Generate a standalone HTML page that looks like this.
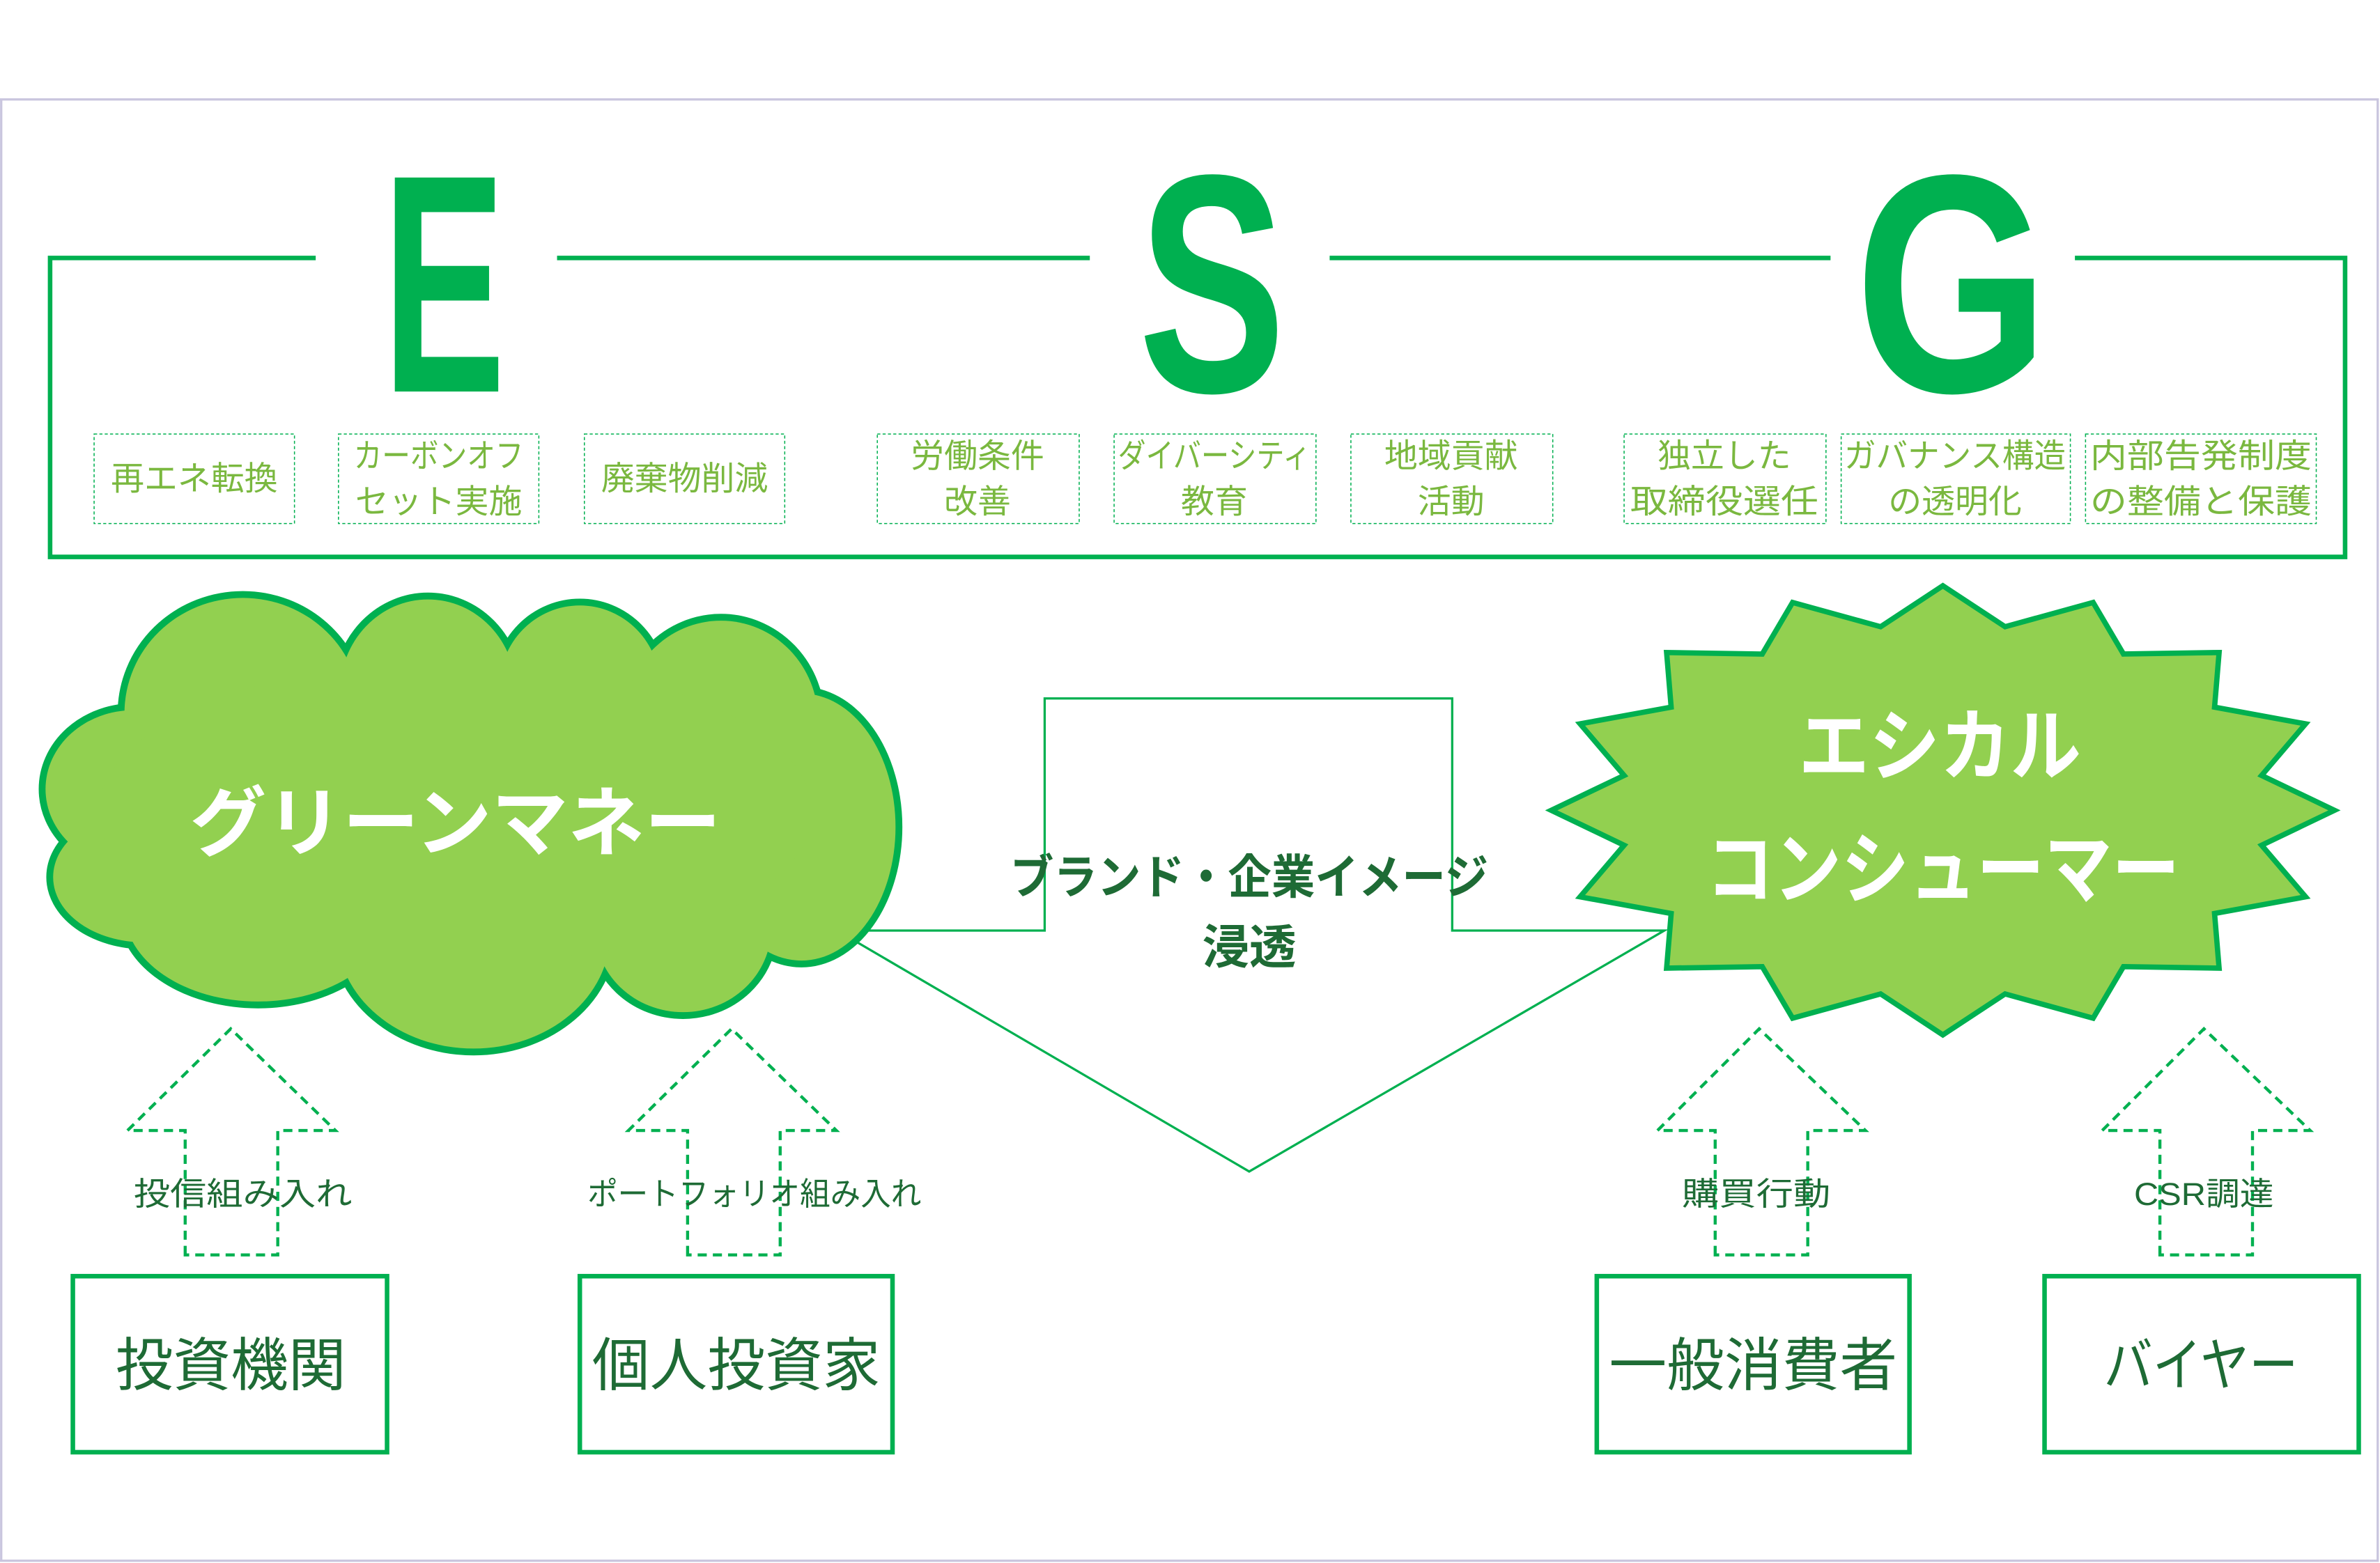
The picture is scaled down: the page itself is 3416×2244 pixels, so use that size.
<!DOCTYPE html>
<html><head><meta charset="utf-8"><style>
html,body{margin:0;padding:0;background:#fff;}
svg{display:block;}
text{font-family:"Liberation Sans","Noto Sans CJK JP",sans-serif;}
</style></head><body>
<svg width="3416" height="2244" viewBox="0 0 1568 1030" xmlns="http://www.w3.org/2000/svg">
<rect x="0" y="0" width="1568" height="1030" fill="#fff"/>
<path d="M0 65.5 H1566.5 V1028.5 H0" fill="none" stroke="#c9c5de" stroke-width="1.5"/>
<line x1="0.8" y1="65" x2="0.8" y2="1029" stroke="#c9c5de" stroke-width="1.5"/>
<!-- ESG bracket -->
<g stroke="#00b050" stroke-width="3" fill="none">
<path d="M208 170 H33 V367 H1545 V170 H1367"/>
<line x1="367" y1="170" x2="718" y2="170"/>
<line x1="876" y1="170" x2="1206" y2="170"/>
</g>
<g fill="#00b050" font-weight="bold" font-size="205">
<text x="252" y="258" textLength="81" lengthAdjust="spacingAndGlyphs">E</text>
<text x="750" y="258" textLength="97" lengthAdjust="spacingAndGlyphs">S</text>
<text x="1222" y="258" textLength="128" lengthAdjust="spacingAndGlyphs">G</text>
</g>
<!-- small boxes -->
<g fill="none" stroke="#00b050" stroke-width="0.7" stroke-dasharray="2 1.5">
<rect x="62" y="286" width="132" height="59"/>
<rect x="223" y="286" width="132" height="59"/>
<rect x="385" y="286" width="132" height="59"/>
<rect x="578" y="286" width="133" height="59"/>
<rect x="734" y="286" width="133" height="59"/>
<rect x="890" y="286" width="133" height="59"/>
<rect x="1070" y="286" width="133" height="59"/>
<rect x="1213" y="286" width="151" height="59"/>
<rect x="1374" y="286" width="152" height="59"/>
</g>
<g fill="#7ab83f" font-size="22" text-anchor="middle">
<text x="128" y="323">再エネ転換</text>
<text x="289" y="308" textLength="112" lengthAdjust="spacingAndGlyphs">カーボンオフ</text><text x="289" y="338">セット実施</text>
<text x="451" y="323">廃棄物削減</text>
<text x="644" y="308">労働条件</text><text x="644" y="338">改善</text>
<text x="800" y="308" textLength="127" lengthAdjust="spacingAndGlyphs">ダイバーシティ</text><text x="800" y="338">教育</text>
<text x="956" y="308">地域貢献</text><text x="956" y="338">活動</text>
<text x="1136" y="308">独立した</text><text x="1136" y="338" textLength="124" lengthAdjust="spacingAndGlyphs">取締役選任</text>
<text x="1288" y="308" textLength="146" lengthAdjust="spacingAndGlyphs">ガバナンス構造</text><text x="1288" y="338">の透明化</text>
<text x="1450" y="308" textLength="146" lengthAdjust="spacingAndGlyphs">内部告発制度</text><text x="1450" y="338" textLength="146" lengthAdjust="spacingAndGlyphs">の整備と保護</text>
</g>
<!-- big arrow (double line) -->
<path d="M690 462 H955 V615 H1090 L823 770 L558 615 H690 Z" fill="#fff" stroke="#00b050" stroke-width="5" stroke-linejoin="miter"/>
<path d="M690 462 H955 V615 H1090 L823 770 L558 615 H690 Z" fill="#fff" stroke="#fff" stroke-width="2" stroke-linejoin="miter"/>
<g fill="#1e6b35" font-weight="bold" font-size="31" text-anchor="middle">
<text x="823" y="589" textLength="315" lengthAdjust="spacingAndGlyphs">ブランド・企業イメージ</text>
<text x="823" y="635">浸透</text>
</g>
<!-- cloud -->
<g stroke="#00b050" stroke-width="5" fill="#92d050">
<ellipse cx="160" cy="470" rx="80" ry="78"/>
<ellipse cx="282" cy="456" rx="60" ry="63"/>
<ellipse cx="382" cy="453" rx="55" ry="56"/>
<ellipse cx="475" cy="475" rx="66" ry="68"/>
<ellipse cx="528" cy="545" rx="64" ry="90"/>
<ellipse cx="450" cy="612" rx="60" ry="57"/>
<ellipse cx="312" cy="615" rx="92" ry="78"/>
<ellipse cx="170" cy="600" rx="90" ry="62"/>
<ellipse cx="88" cy="520" rx="60" ry="54"/>
<ellipse cx="95" cy="578" rx="62" ry="45"/>
</g>
<g fill="#92d050">
<ellipse cx="160" cy="470" rx="78" ry="76"/>
<ellipse cx="282" cy="456" rx="58" ry="61"/>
<ellipse cx="382" cy="453" rx="53" ry="54"/>
<ellipse cx="475" cy="475" rx="64" ry="66"/>
<ellipse cx="528" cy="545" rx="62" ry="88"/>
<ellipse cx="450" cy="612" rx="58" ry="55"/>
<ellipse cx="312" cy="615" rx="90" ry="76"/>
<ellipse cx="170" cy="600" rx="88" ry="60"/>
<ellipse cx="88" cy="520" rx="58" ry="52"/>
<ellipse cx="95" cy="578" rx="60" ry="43"/>
<ellipse cx="300" cy="535" rx="235" ry="100"/>
</g>
<text x="300" y="560" fill="#fff" font-weight="bold" font-size="50" text-anchor="middle" textLength="350" lengthAdjust="spacingAndGlyphs">グリーンマネー</text>
<!-- starburst -->
<polygon transform="translate(1280 534)" fill="#92d050" stroke="#00b050" stroke-width="3.5" stroke-linejoin="miter"
points="0,-148 41,-121 99,-137 119,-103 182,-104 179,-68 239,-57 210,-23 258,0 210,23 239,57 179,68 182,104 119,103 99,137 41,121 0,148 -41,121 -99,137 -119,103 -182,104 -179,68 -239,57 -210,23 -258,0 -210,-23 -239,-57 -179,-68 -182,-104 -119,-103 -99,-137 -41,-121"/>
<g fill="#fff" font-weight="bold" font-size="52" text-anchor="middle">
<text x="1278" y="510" textLength="186" lengthAdjust="spacingAndGlyphs">エシカル</text>
<text x="1280" y="591" textLength="312" lengthAdjust="spacingAndGlyphs">コンシューマー</text>
</g>
<!-- dashed arrows -->
<g fill="none" stroke="#00b050" stroke-width="2" stroke-dasharray="6 4">
<path d="M122 827 V745 H84 L152 678 L221 745 H183 V827 Z"/>
<path d="M453 827 V745 H414 L482 678 L551 745 H514 V827 Z"/>
<path d="M1130 827 V745 H1092 L1159 678 L1229 745 H1191 V827 Z"/>
<path d="M1423 827 V745 H1385 L1452 678 L1522 745 H1484 V827 Z"/>
</g>
<g fill="#1e6b35" font-size="21" text-anchor="middle">
<text x="160" y="794" textLength="144" lengthAdjust="spacingAndGlyphs">投信組み入れ</text>
<text x="497" y="794" textLength="220" lengthAdjust="spacingAndGlyphs">ポートフォリオ組み入れ</text>
<text x="1157" y="794" textLength="98" lengthAdjust="spacingAndGlyphs">購買行動</text>
<text x="1452" y="794" textLength="92" lengthAdjust="spacingAndGlyphs">CSR調達</text>
</g>
<!-- bottom boxes -->
<g fill="none" stroke="#00b050" stroke-width="3">
<rect x="48" y="841" width="207" height="116"/>
<rect x="382" y="841" width="206" height="116"/>
<rect x="1052" y="841" width="206" height="116"/>
<rect x="1347" y="841" width="207" height="116"/>
</g>
<g fill="#1e6b35" font-size="38" text-anchor="middle">
<text x="152" y="913">投資機関</text>
<text x="485" y="913">個人投資家</text>
<text x="1155" y="913">一般消費者</text>
<text x="1450" y="913" textLength="128" lengthAdjust="spacingAndGlyphs">バイヤー</text>
</g>
</svg>
</body></html>
